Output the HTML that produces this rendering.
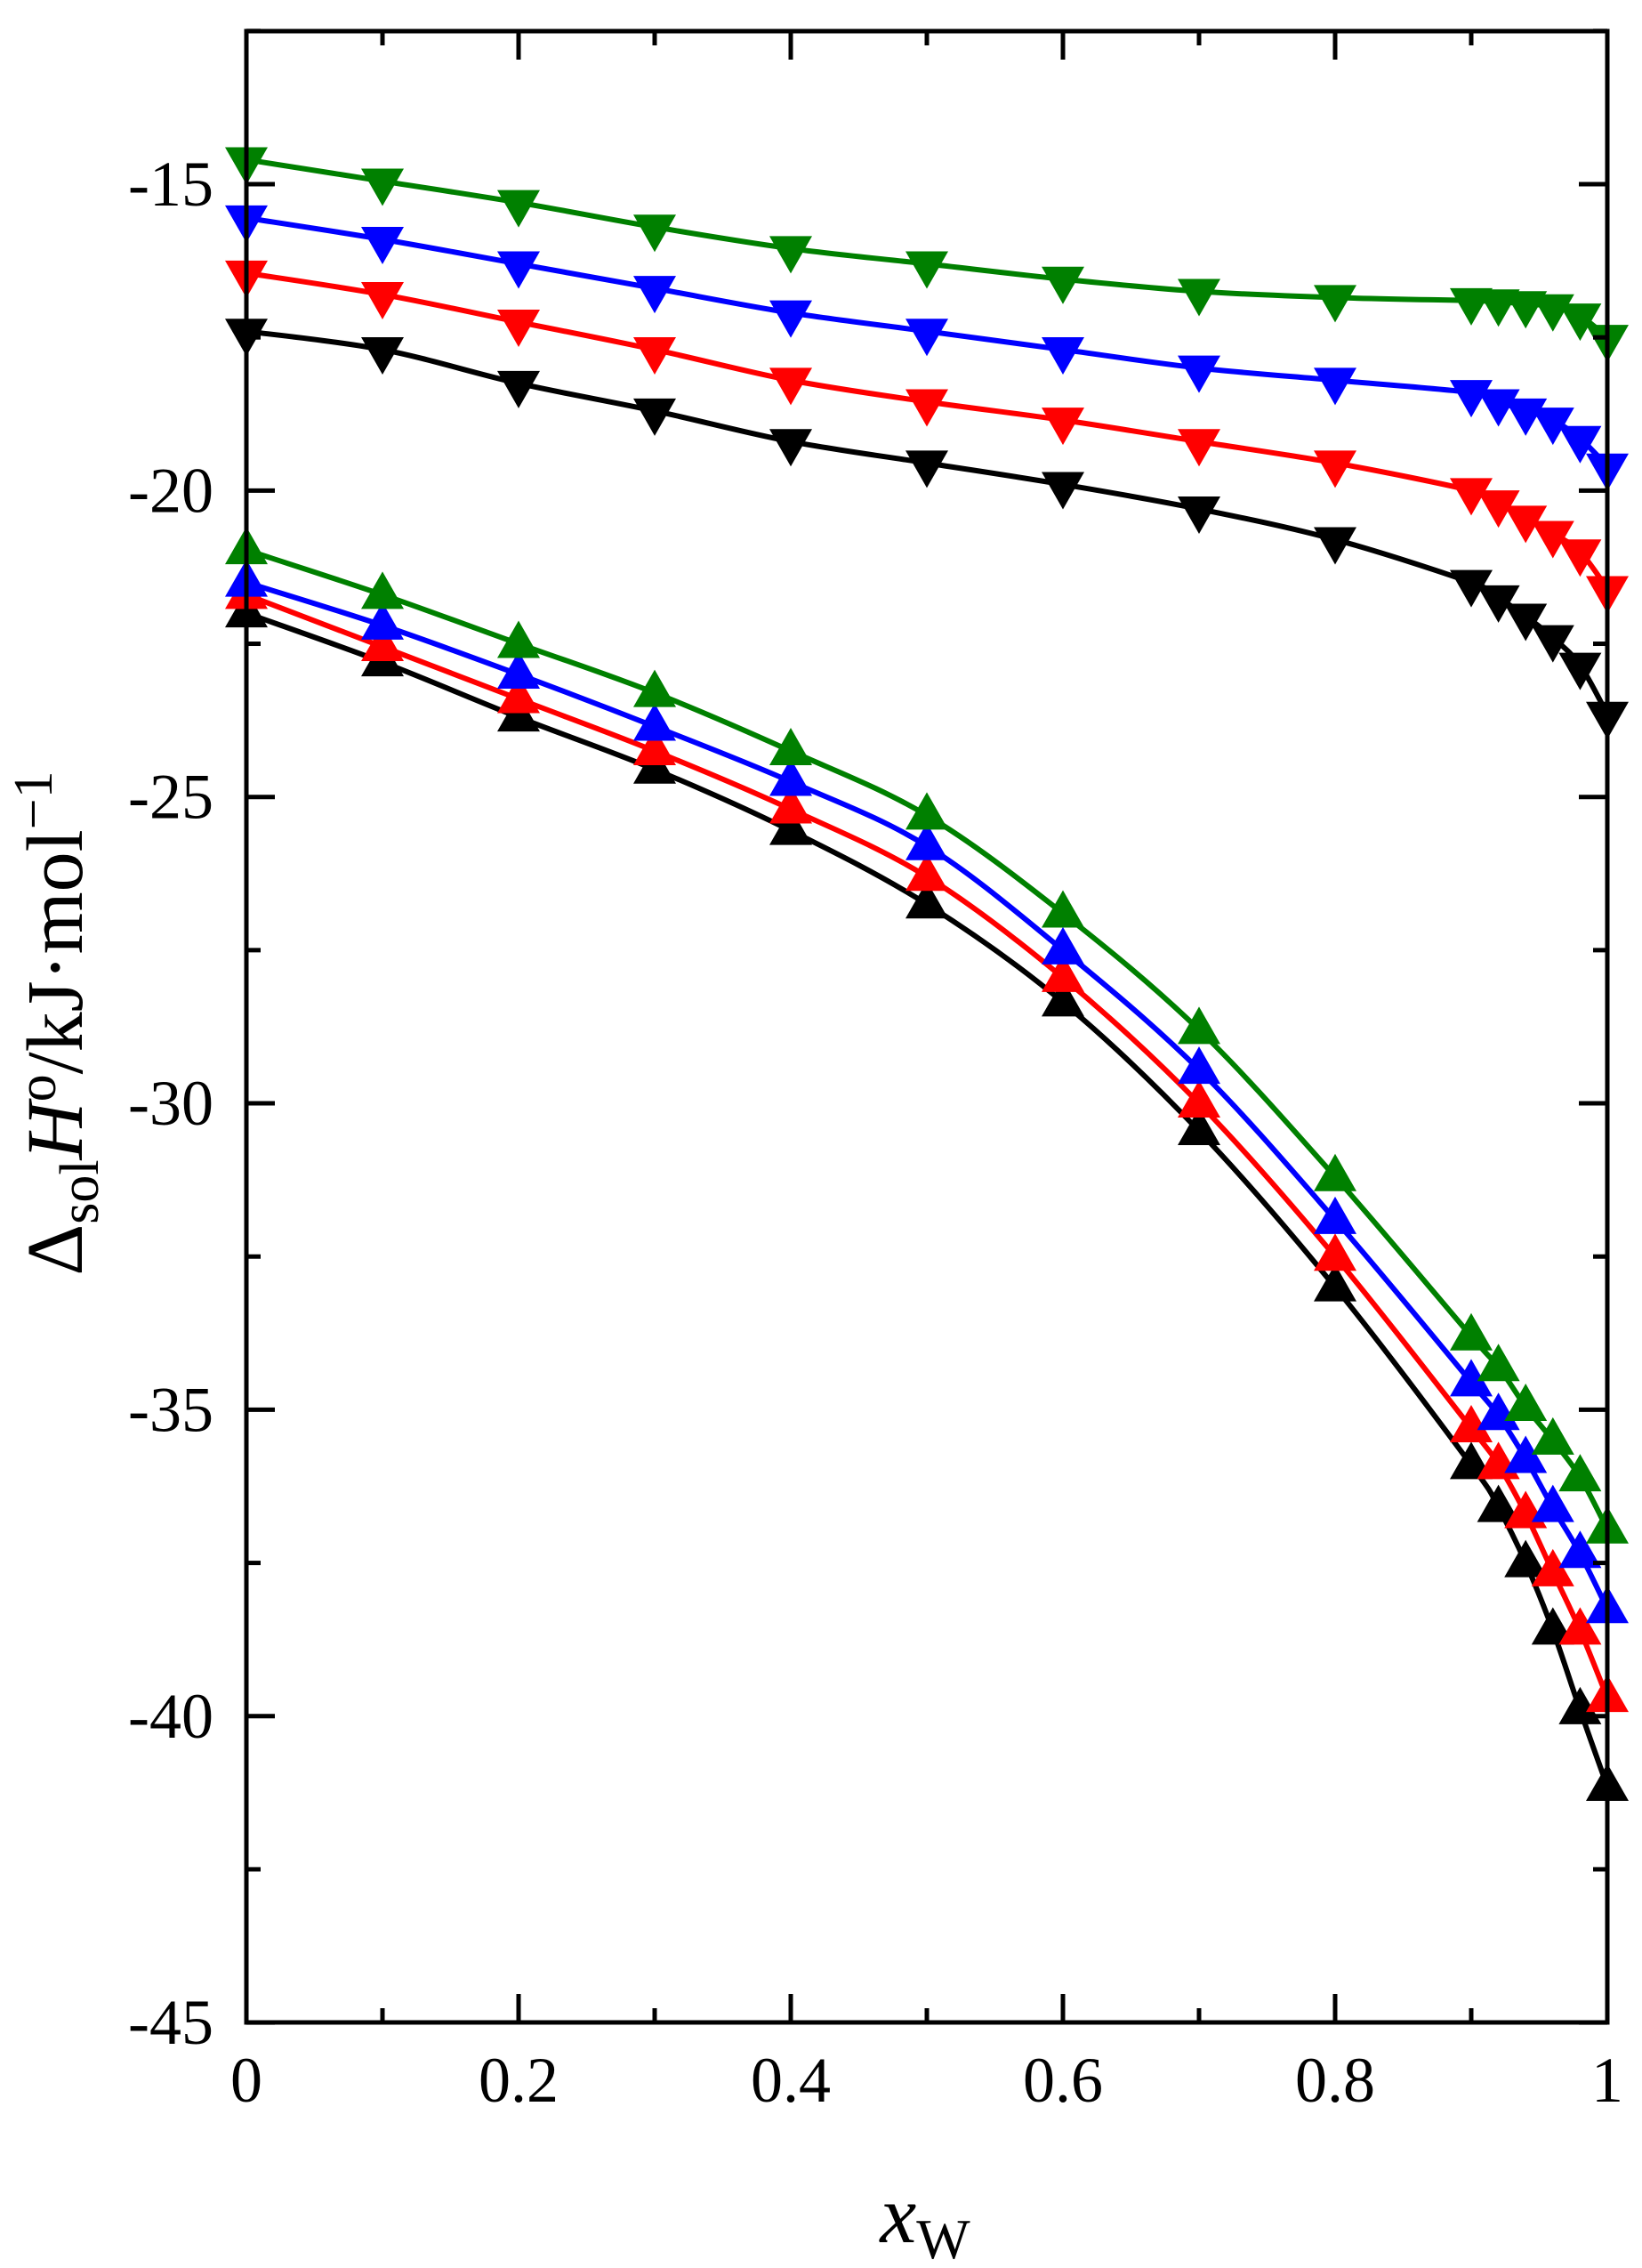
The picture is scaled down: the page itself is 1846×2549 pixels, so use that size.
<!DOCTYPE html>
<html><head><meta charset="utf-8"><style>
html,body{margin:0;padding:0;background:#fff;}
text{font-family:"Liberation Serif","Times New Roman",serif;}
</style></head><body>
<svg id="s" width="1846" height="2549" viewBox="0 0 1846 2549" xmlns="http://www.w3.org/2000/svg" style="display:block">
<rect width="1846" height="2549" fill="#fff"/>
<g id="plot"></g>
<rect x="277" y="35" width="1530" height="2238" fill="none" stroke="#000" stroke-width="5"/>
<g id="ticks" stroke="#000" stroke-width="5"></g>
<g font-family="Liberation Serif, serif" font-size="72" text-anchor="end" id="yl"></g>
<g font-family="Liberation Serif, serif" font-size="72" text-anchor="middle" id="xl"></g>
<text font-family="Liberation Serif, serif" transform="translate(92,1150) rotate(-90)" text-anchor="middle" font-size="90">Δ<tspan font-size="62" dy="18">sol</tspan><tspan font-style="italic" dy="-18">H</tspan><tspan font-size="62" dy="-30">o</tspan><tspan dy="30">/kJ·mol</tspan><tspan font-size="62" dy="-34">−1</tspan></text>
<text font-family="Liberation Serif, serif" x="1040" y="2520" font-size="92" text-anchor="middle"><tspan font-style="italic">x</tspan><tspan font-size="64" dy="18">W</tspan></text>
</svg>
<script>
const X=x=>277+1530*x, Y=v=>207+(-15-v)*68.87;
const xs=[0,0.1,0.2,0.3,0.4,0.5,0.6,0.7,0.8,0.9,0.92,0.94,0.96,0.98,1];
const down={
"#008000":[-14.6,-14.95,-15.3,-15.7,-16.05,-16.3,-16.55,-16.75,-16.85,-16.9,-16.92,-16.95,-17.0,-17.15,-17.5],
"#0000ff":[-15.55,-15.9,-16.3,-16.7,-17.1,-17.4,-17.7,-18.0,-18.2,-18.4,-18.55,-18.7,-18.85,-19.15,-19.6],
"#ff0000":[-16.45,-16.8,-17.25,-17.7,-18.2,-18.55,-18.85,-19.2,-19.55,-20.0,-20.2,-20.45,-20.7,-21.0,-21.6],
"#000000":[-17.4,-17.7,-18.25,-18.7,-19.2,-19.55,-19.9,-20.3,-20.8,-21.5,-21.75,-22.05,-22.4,-22.85,-23.65]};
const up={
"#000000":[-22.0,-22.8,-23.7,-24.55,-25.55,-26.75,-28.35,-30.45,-33.0,-35.9,-36.6,-37.5,-38.6,-39.9,-41.15],
"#ff0000":[-21.7,-22.55,-23.4,-24.25,-25.2,-26.3,-27.95,-30.0,-32.5,-35.3,-35.9,-36.7,-37.65,-38.6,-39.7],
"#0000ff":[-21.5,-22.2,-23.0,-23.85,-24.75,-25.8,-27.5,-29.45,-31.9,-34.55,-35.1,-35.8,-36.6,-37.35,-38.25],
"#008000":[-20.97,-21.7,-22.5,-23.3,-24.25,-25.3,-26.9,-28.8,-31.2,-33.8,-34.3,-34.95,-35.5,-36.1,-36.95]};
let h='';
function series(c,vals,isUp){
 const p=xs.map((x,i)=>[X(x),Y(vals[i])]);
 let d='M'+p[0].join(',');
 for(let i=0;i<p.length-1;i++){
  const p0=p[Math.max(0,i-1)],p1=p[i],p2=p[i+1],p3=p[Math.min(p.length-1,i+2)];
  const c1=[p1[0]+(p2[0]-p0[0])/6,p1[1]+(p2[1]-p0[1])/6],c2=[p2[0]-(p3[0]-p1[0])/6,p2[1]-(p3[1]-p1[1])/6];
  d+=` C${c1.join(',')} ${c2.join(',')} ${p2.join(',')}`;
 }
 h+=`<path d="${d}" fill="none" stroke="${c}" stroke-width="6"/>`;
 p.forEach(([x,y])=>{
  if(isUp) h+=`<polygon points="${x-24},${y+16} ${x+24},${y+16} ${x},${y-26}" fill="${c}"/>`;
  else h+=`<polygon points="${x-24},${y-14} ${x+24},${y-14} ${x},${y+28}" fill="${c}"/>`;
 });
}
for(const c in up) series(c,up[c],true);
for(const c in down) series(c,down[c],false);
document.getElementById('plot').innerHTML=h;
let t='',yl='',xl='';
for(let v=-45;v<=-12.5;v+=2.5){const y=Y(v);const L=(v%5===0)?32:16;
 t+=`<line x1="277" y1="${y}" x2="${277+L}" y2="${y}"/><line x1="1807" y1="${y}" x2="${1807-L}" y2="${y}"/>`;
 if(v%5===0) yl+=`<text x="240" y="${y+24}">${v}</text>`;}
for(let i=0;i<=10;i++){const x=X(i/10);const L=i%2===0?32:16;
 t+=`<line x1="${x}" y1="2273" x2="${x}" y2="${2273-L}"/><line x1="${x}" y1="35" x2="${x}" y2="${35+L}"/>`;
 if(i%2===0) xl+=`<text x="${x}" y="2362">${i===0?'0':i===10?'1':(i/10).toString()}</text>`;}
document.getElementById('ticks').innerHTML=t;
document.getElementById('yl').innerHTML=yl;
document.getElementById('xl').innerHTML=xl;
</script>
</body></html>
